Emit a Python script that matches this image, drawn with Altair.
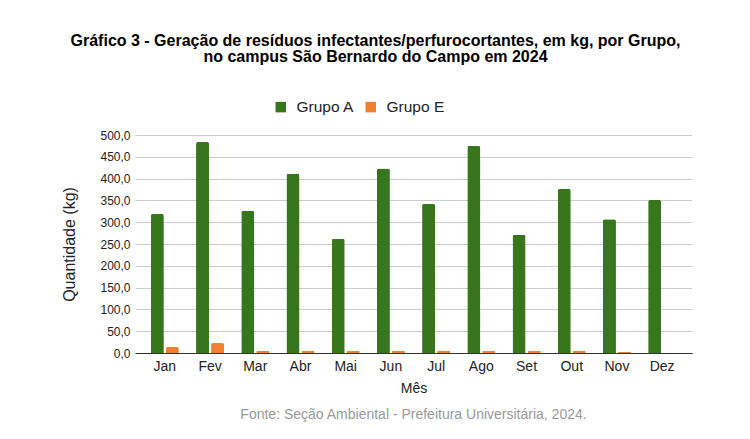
import altair as alt
import pandas as pd

months = ["Jan", "Fev", "Mar", "Abr", "Mai", "Jun", "Jul", "Ago", "Set", "Out", "Nov", "Dez"]
grupo_a = [319, 484, 326, 411, 262, 423, 342, 475, 271, 376, 307, 351]
grupo_e = [14, 23, 5, 5, 5, 5, 5, 5, 5, 5, 3, 0]
groups = ["Grupo A", "Grupo E"]
colors = ["#38761d", "#f0802f"]
y_ticks = [0, 50, 100, 150, 200, 250, 300, 350, 400, 450, 500]

rows = []
for m, a, e in zip(months, grupo_a, grupo_e):
    rows.append({"Mês": m, "Grupo": "Grupo A", "Quantidade": a})
    rows.append({"Mês": m, "Grupo": "Grupo E", "Quantidade": e})
df = pd.DataFrame(rows)

W, H = 557, 218
FONT = "Liberation Sans"

bars = alt.Chart(df).mark_bar(cornerRadiusTopLeft=2, cornerRadiusTopRight=2).encode(
    x=alt.X("Mês:N", sort=months,
            scale=alt.Scale(paddingInner=0, paddingOuter=0.16),
            axis=alt.Axis(title="Mês", labelAngle=0, ticks=False, labelPadding=6,
                          labelFontSize=14, labelColor="#222", titleFontSize=14,
                          titleFontWeight="normal", titleColor="#222", titlePadding=8,
                          domainColor="#333", domainWidth=1, grid=False,
                          labelFont=FONT, titleFont=FONT)),
    xOffset=alt.XOffset("Grupo:N", sort=groups,
                        scale=alt.Scale(paddingInner=0.133, paddingOuter=0.573)),
    y=alt.Y("Quantidade:Q", scale=alt.Scale(domain=[0, 500], nice=False),
            axis=alt.Axis(title="Quantidade (kg)", values=y_ticks,
                          labelExpr="replace(format(datum.value, '.1f'), '.', ',')",
                          ticks=False, domain=False, gridColor="#cccccc", labelPadding=5,
                          labelFontSize=12, labelColor="#222", titleFontSize=16,
                          titleFontWeight="normal", titleColor="#222", titlePadding=22,
                          labelFont=FONT, titleFont=FONT)),
    color=alt.Color("Grupo:N", sort=groups,
                    scale=alt.Scale(domain=groups, range=colors),
                    legend=alt.Legend(title=None, orient="none", direction="horizontal",
                                      legendX=138, legendY=-36, symbolType="square",
                                      symbolSize=110, symbolStrokeWidth=0,
                                      labelFontSize=15.5, labelColor="#222", labelFont=FONT,
                                      columnPadding=8, labelOffset=8)),
)

footer = alt.Chart(pd.DataFrame({"t": ["Fonte: Seção Ambiental - Prefeitura Universitária, 2024."]})).mark_text(
    font=FONT, fontSize=14, color="#999999", baseline="middle", align="center"
).encode(text="t:N", x=alt.value(W / 2), y=alt.value(H + 62))

chart = alt.layer(bars, footer).properties(
    width=W, height=H,
    title=alt.TitleParams(
        ["Gráfico 3 - Geração de resíduos infectantes/perfurocortantes, em kg, por Grupo,",
         "no campus São Bernardo do Campo em 2024"],
        anchor="middle", fontSize=16, font=FONT, fontWeight="bold", color="#000",
        lineHeight=16, offset=34, dx=-38),
    autosize=alt.AutoSizeParams(type="none"),
    padding={"left": 127, "top": 127, "right": 50, "bottom": 78},
).configure_view(stroke=None)

chart.save("out.html", embed_options={"renderer": "svg", "actions": False})
